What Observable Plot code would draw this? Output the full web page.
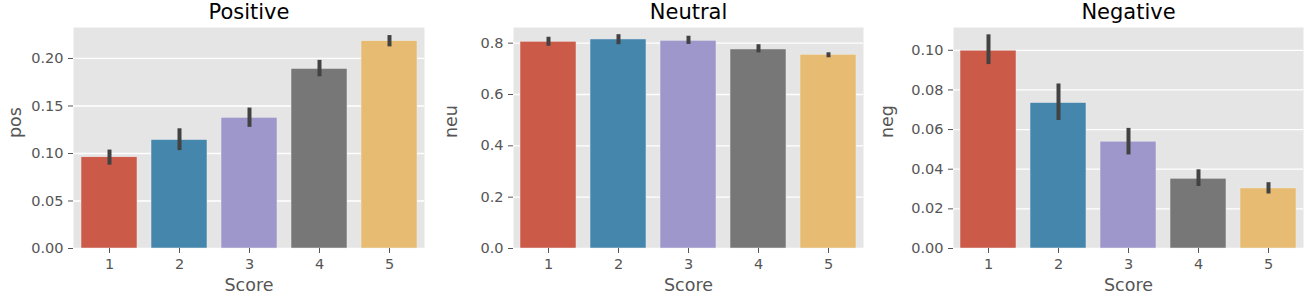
<!DOCTYPE html>
<html>
<head>
<meta charset="utf-8">
<script src="https://cdn.jsdelivr.net/npm/d3@7"></script>
<script src="https://cdn.jsdelivr.net/npm/@observablehq/plot@0.6"></script>
<style>
  html, body { margin: 0; padding: 0; background: #ffffff; }
  #wrap { position: relative; width: 1312px; height: 298px; overflow: hidden; }
  #wrap > div { position: absolute; top: 0; }
</style>
</head>
<body>
<div id="wrap">
  <div id="p1" style="left:0px"></div>
  <div id="p2" style="left:436px"></div>
  <div id="p3" style="left:872px"></div>
</div>
<script>
const scores = [1, 2, 3, 4, 5];
const barColors = ["#CC5A49", "#4586AC", "#9E97CC", "#777777", "#E7BC72"];

const posMean = [0.096, 0.1142, 0.1376, 0.189, 0.2182];
const posLo   = [0.0877, 0.103, 0.1275, 0.1807, 0.2122];
const posHi   = [0.1036, 0.126, 0.1478, 0.198, 0.2241];
const posTicks = [0, 0.05, 0.10, 0.15, 0.20];

const neuMean = [0.8054, 0.8144, 0.8093, 0.7754, 0.7547];
const neuLo   = [0.788, 0.794, 0.795, 0.762, 0.743];
const neuHi   = [0.823, 0.833, 0.827, 0.794, 0.7625];
const neuTicks = [0, 0.2, 0.4, 0.6, 0.8];

const negMean = [0.0998, 0.0734, 0.0539, 0.0352, 0.0303];
const negLo   = [0.0928, 0.0646, 0.0472, 0.0313, 0.0275];
const negHi   = [0.1078, 0.083, 0.0606, 0.0397, 0.0332];
const negTicks = [0, 0.02, 0.04, 0.06, 0.08, 0.10];

const panels = [
  {id: "p1", title: "Positive", ylabel: "pos", mean: posMean, lo: posLo, hi: posHi, ticks: posTicks, fmt: ".2f", ymax: 0.2326, width: 436, ml: 73, mr: 12},
  {id: "p2", title: "Neutral", ylabel: "neu", mean: neuMean, lo: neuLo, hi: neuHi, ticks: neuTicks, fmt: ".1f", ymax: 0.861, width: 436, ml: 77, mr: 9},
  {id: "p3", title: "Negative", ylabel: "neg", mean: negMean, lo: negLo, hi: negHi, ticks: negTicks, fmt: ".2f", ymax: 0.1115, width: 440, ml: 81, mr: 9}
];

const FONT = "'DejaVu Sans', sans-serif";
const TICK_FS = 14.5;
const LABEL_FS = 17.5;
const TITLE_FS = 21;

for (const p of panels) {
  const data = scores.map((s, i) => ({score: String(s), value: p.mean[i], lo: p.lo[i], hi: p.hi[i]}));
  const chart = Plot.plot({
    width: p.width,
    height: 298,
    marginLeft: p.ml,
    marginRight: p.mr,
    marginTop: 27,
    marginBottom: 50,
    style: {fontFamily: FONT, fontSize: TICK_FS + "px", background: "transparent", overflow: "visible"},
    x: {type: "band", domain: scores.map(String), paddingInner: 0.2, paddingOuter: 0.1, label: null},
    y: {domain: [0, p.ymax], label: null},
    color: {domain: scores.map(String), range: barColors},
    marks: [
      Plot.frame({fill: "#E5E5E5", stroke: null}),
      Plot.gridY(p.ticks, {stroke: "#ffffff", strokeOpacity: 1, strokeWidth: 1.3}),
      Plot.barY(data, {x: "score", y: "value", fill: "score", stroke: "#EEEEEE", strokeWidth: 0.5}),
      Plot.ruleX(data, {x: "score", y1: "lo", y2: "hi", stroke: "#424242", strokeWidth: 4}),
      Plot.axisY({ticks: p.ticks, tickFormat: d3.format(p.fmt), tickSize: 5, tickPadding: 5, fontSize: TICK_FS, color: "#555555", stroke: "#555555", label: null}),
      Plot.axisX({tickSize: 5, tickPadding: 5, fontSize: TICK_FS, color: "#555555", stroke: "#555555", label: null}),
      Plot.text([p.title], {frameAnchor: "top", dy: -9, lineAnchor: "bottom", fontSize: TITLE_FS, fill: "#000000"}),
      Plot.text([p.ylabel], {frameAnchor: "left", rotate: -90, dx: -(p.ml - 15), fontSize: LABEL_FS, fill: "#555555"}),
      Plot.text(["Score"], {frameAnchor: "bottom", dy: 42, fontSize: LABEL_FS, fill: "#555555"})
    ]
  });
  document.getElementById(p.id).appendChild(chart);
}
</script>
</body>
</html>
